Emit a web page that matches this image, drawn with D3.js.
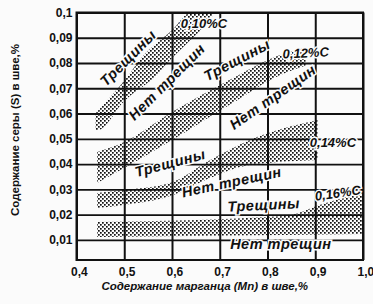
<!DOCTYPE html>
<html>
<head>
<meta charset="utf-8">
<script src="https://cdn.jsdelivr.net/npm/d3@7"></script>
<style>
  body { margin: 0; background: #fbfbfb; }
  text { font-family: "Liberation Sans", Arial, sans-serif; fill: #111; }
</style>
</head>
<body>
<svg></svg>
<script>
const width = 373;
const height = 304;

// axis ticks
const mnTicks = [0.4, 0.5, 0.6, 0.7, 0.8, 0.9, 1.0];
const sTicks = [0.01, 0.02, 0.03, 0.04, 0.05, 0.06, 0.07, 0.08, 0.09, 0.1];

// stippled bands: [Mn, S] along the upper (cracks) and lower (no cracks) edge
const band10Upper = [[0.44, 0.060], [0.50, 0.073], [0.55, 0.085], [0.60, 0.093], [0.64, 0.100]];
const band10Lower = [[0.445, 0.0535], [0.50, 0.065], [0.555, 0.073], [0.60, 0.082], [0.66, 0.093], [0.69, 0.100]];
const band12Upper = [[0.443, 0.0448], [0.50, 0.0487], [0.60, 0.0606], [0.72, 0.0733], [0.826, 0.0832], [0.88, 0.086]];
const band12Lower = [[0.443, 0.0325], [0.50, 0.0384], [0.60, 0.0495], [0.72, 0.0634], [0.826, 0.0752], [0.88, 0.079]];
const band14Upper = [[0.443, 0.0285], [0.50, 0.0297], [0.596, 0.0325], [0.68, 0.0416], [0.763, 0.0495], [0.905, 0.0574]];
const band14Lower = [[0.443, 0.0226], [0.50, 0.0238], [0.596, 0.0273], [0.68, 0.0345], [0.763, 0.0396], [0.905, 0.0416]];
const band16Upper = [[0.443, 0.0170], [0.836, 0.0194], [0.909, 0.0238], [1.0, 0.0290]];
const band16Lower = [[0.443, 0.0111], [1.0, 0.0123]];

const bands = [
    { upper: band10Upper, lower: band10Lower },
    { upper: band12Upper, lower: band12Lower },
    { upper: band14Upper, lower: band14Lower },
    { upper: band16Upper, lower: band16Lower }
];

const xScale = d3.scaleLinear()
                    .domain([0.4, 1.0])
                    .range([76.5, 363]);
const yScale = d3.scaleLinear()
                    .domain([0.002, 0.1])
                    .range([260, 12.5]);

const svg = d3.select('svg')
                .attr('width', width)
                .attr('height', height);

// dot texture for the bands
svg.append('defs')
    .append('pattern')
        .attr('id', 'stipple')
        .attr('width', 4)
        .attr('height', 4)
        .attr('patternUnits', 'userSpaceOnUse')
    .selectAll('rect')
    .data([[0, 0], [2, 2]])
    .enter()
    .append('rect')
        .attr('x', d => d[0])
        .attr('y', d => d[1])
        .attr('width', 1.7)
        .attr('height', 1.7)
        .attr('fill', '#111');

svg.append('rect')
    .attr('width', width)
    .attr('height', height)
    .attr('fill', '#fbfbfb');

const area = d3.area()
    .x(d => xScale(d[0]))
    .y0(d => yScale(d[1]))
    .y1(d => yScale(d[2]))
    .curve(d3.curveMonotoneX);

// merge upper/lower edges onto a shared set of Mn values
function bandRows(b) {
    const xs = Array.from(new Set(b.upper.map(d => d[0]).concat(b.lower.map(d => d[0])))).sort((a, c) => a - c);
    const interp = (pts, x) => d3.scaleLinear()
                                    .domain(pts.map(d => d[0]))
                                    .range(pts.map(d => d[1]))
                                    .clamp(true)(x);
    return xs.map(x => [x, interp(b.lower, x), interp(b.upper, x)]);
}

svg.append('g')
    .selectAll('path')
    .data(bands)
    .enter()
    .append('path')
        .attr('d', d => area(bandRows(d)))
        .attr('fill', 'url(#stipple)');

// grid
const xAxis = d3.axisBottom(xScale)
                    .tickValues(mnTicks)
                    .tickSize(-(yScale(0.002) - yScale(0.1)))
                    .tickSizeOuter(0)
                    .tickPadding(7)
                    .tickFormat(d => d3.format('.1f')(d).replace('.', ','));

const yAxis = d3.axisLeft(yScale)
                    .tickValues(sTicks)
                    .tickSize(-(xScale(1.0) - xScale(0.4)))
                    .tickSizeOuter(0)
                    .tickPadding(4)
                    .tickFormat(d => d === 0.1 ? '0,1' : d3.format('.2f')(d).replace('.', ','));

const gx = svg.append('g')
    .attr('transform', `translate(0, ${yScale(0.002)})`)
    .call(xAxis);
gx.select('.domain').remove();
gx.selectAll('line').attr('stroke', '#111').attr('stroke-width', 2);
gx.selectAll('text')
    .style('font-size', '12px')
    .style('font-weight', 'bold')
    .attr('dx', '0.2em');

const gy = svg.append('g')
    .attr('transform', `translate(${xScale(0.4)}, 0)`)
    .call(yAxis);
gy.select('.domain').remove();
gy.selectAll('line').attr('stroke', '#111').attr('stroke-width', 1.8);
gy.selectAll('text')
    .style('font-size', '12px')
    .style('font-weight', 'bold');

svg.append('rect')
    .attr('x', xScale(0.4))
    .attr('y', yScale(0.1))
    .attr('width', xScale(1.0) - xScale(0.4))
    .attr('height', yScale(0.002) - yScale(0.1))
    .attr('fill', 'none')
    .attr('stroke', '#111')
    .attr('stroke-width', 2);

// region labels
const crack = 'Трещины';
const noCrack = 'Нет трещин';
const notes = [
    { t: crack, mn: 0.508, s: 0.082, a: -45 },
    { t: noCrack, mn: 0.589, s: 0.0725, a: -45 },
    { t: '0,10%C', mn: 0.667, s: 0.0955, a: 0 },
    { t: crack, mn: 0.736, s: 0.0812, a: -28 },
    { t: noCrack, mn: 0.811, s: 0.0665, a: -35 },
    { t: '0,12%C', mn: 0.88, s: 0.084, a: -3 },
    { t: crack, mn: 0.596, s: 0.0404, a: -15 },
    { t: noCrack, mn: 0.725, s: 0.0329, a: -12 },
    { t: '0,14%C', mn: 0.937, s: 0.0487, a: 0 },
    { t: crack, mn: 0.792, s: 0.0238, a: -3 },
    { t: noCrack, mn: 0.828, s: 0.0083, a: 0 },
    { t: '0,16%C', mn: 0.947, s: 0.0285, a: -8 }
];

svg.append('g')
    .selectAll('text')
    .data(notes)
    .enter()
    .append('text')
        .attr('transform', d => `translate(${xScale(d.mn)}, ${yScale(d.s)}) rotate(${d.a})`)
        .attr('text-anchor', 'middle')
        .attr('dominant-baseline', 'central')
        .style('font-size', d => d.t.includes('%') ? '13px' : '14.5px')
        .style('font-style', 'italic')
        .style('font-weight', 'bold')
        .style('letter-spacing', d => d.t.includes('%') ? '0px' : '0.5px')
        .style('stroke', '#fbfbfb')
        .style('stroke-width', 3)
        .style('paint-order', 'stroke')
        .text(d => d.t);

// axis titles
svg.append('text')
    .attr('x', (xScale(0.4) + xScale(1.0)) / 2 - 15)
    .attr('y', 290)
    .style('text-anchor', 'middle')
    .style('font-size', '11.5px')
    .style('font-style', 'italic')
    .style('font-weight', 'bold')
    .text('Содержание марганца (Mn) в шве,%');

svg.append('text')
    .attr('transform', 'rotate(-90)')
    .attr('x', -130)
    .attr('y', 19)
    .style('text-anchor', 'middle')
    .style('font-size', '11.5px')
    .style('font-weight', 'bold')
    .text('Содержание серы (S) в шве,%');
</script>
</body>
</html>
